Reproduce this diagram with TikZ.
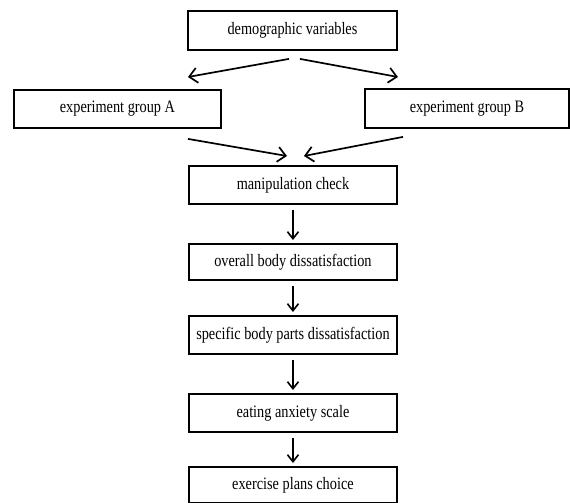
\documentclass[tikz,border=0pt]{standalone}
\usepackage{fontspec}
\setmainfont{Liberation Serif}
\usetikzlibrary{arrows.meta,calc}
\newcommand{\tx}[1]{\scalebox{1}[1.22]{#1}}
\tikzset{
  box/.style={draw=black, line width=1.9pt, inner sep=0pt, anchor=north west,
    font=\fontsize{14.3}{17}\selectfont},
  diag/.style={line width=1.7pt, -{Straight Barb[length=8pt,width=15pt,line width=1.7pt]}},
  vert/.style={line width=1.6pt, -{Straight Barb[length=7pt,width=11pt,line width=1.6pt]},
    shorten <=5pt, shorten >=3pt}
}
\begin{document}
\begin{tikzpicture}[x=1pt,y=1pt]
\useasboundingbox (0,0) rectangle (570,-503);
\node[box, minimum width=209pt, minimum height=39pt] (demo) at (187,-10) {\tx{demographic variables}};
\node[box, minimum width=207pt, minimum height=38pt] (ga) at (13,-89) {\tx{experiment group A}};
\node[box, minimum width=204pt, minimum height=39pt] (gb) at (364,-88) {\tx{experiment group B}};
\node[box, minimum width=208pt, minimum height=38pt] (manip) at (188,-165) {\tx{manipulation check}};
\node[box, minimum width=208pt, minimum height=36pt] (overall) at (188,-243) {\tx{overall body dissatisfaction}};
\node[box, minimum width=208pt, minimum height=38pt] (spec) at (188,-315) {\tx{specific body parts dissatisfaction}};
\node[box, minimum width=208pt, minimum height=38pt] (eat) at (188,-393) {\tx{eating anxiety scale}};
\node[box, minimum width=208pt, minimum height=36pt] (exer) at (188,-466) {\tx{exercise plans choice}};

\coordinate (d1) at ($(demo.south)+(-3.5,-8)$);
\coordinate (a1) at ($(ga.north)+(70.5,12)$);
\coordinate (d2) at ($(demo.south)+(7.5,-8)$);
\coordinate (b1) at ($(gb.north)+(-69,11)$);
\coordinate (a2) at ($(ga.south)+(70.5,-10)$);
\coordinate (m1) at ($(manip.north)+(-6,9)$);
\coordinate (b2) at ($(gb.south)+(-64,-8)$);
\coordinate (m2) at ($(manip.north)+(11,9)$);

\draw[diag] (d1) -- (a1);
\draw[diag] (d2) -- (b1);
\draw[diag] (a2) -- (m1);
\draw[diag] (b2) -- (m2);

\draw[vert] (manip.south) -- (overall.north);
\draw[vert] (overall.south) -- (spec.north);
\draw[vert] (spec.south) -- (eat.north);
\draw[vert] (eat.south) -- (exer.north);
\end{tikzpicture}
\end{document}
